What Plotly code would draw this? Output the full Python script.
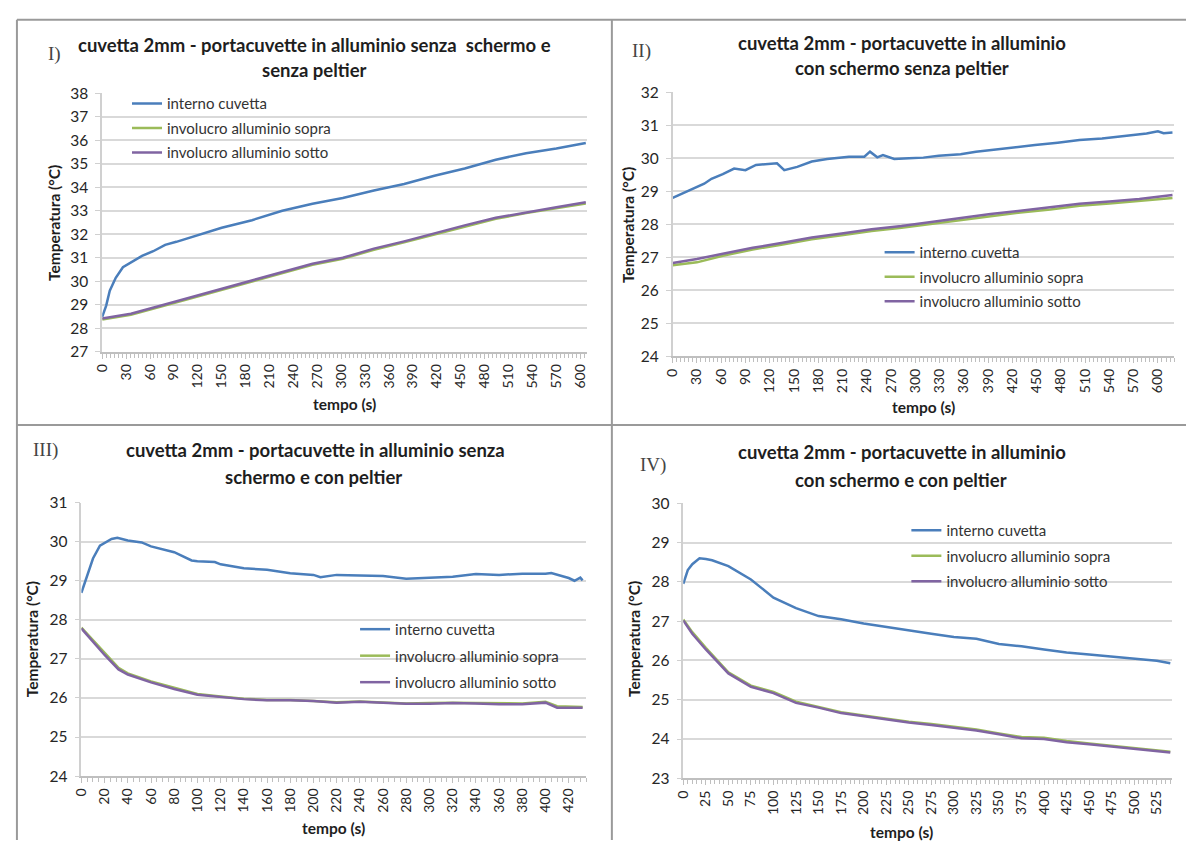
import plotly.graph_objects as go

W, H = 1187, 848

# ---------------- DATA ----------------
# Chart I
t1_int = [0, 5, 9.5, 17, 26, 40, 50, 64, 79, 93, 121, 150, 188, 226, 264, 302, 341, 379, 417, 455, 494, 532, 570, 607]
y1_int = [28.49, 28.97, 29.6, 30.15, 30.6, 30.9, 31.08, 31.28, 31.55, 31.68, 31.97, 32.28, 32.6, 33.0, 33.3, 33.54, 33.86, 34.14, 34.49, 34.8, 35.17, 35.45, 35.65, 35.88]
t1_al = [0, 36, 74, 112, 150, 188, 226, 264, 302, 341, 379, 417, 455, 494, 532, 570, 607]
y1_sopra = [28.38, 28.58, 28.93, 29.28, 29.65, 29.99, 30.36, 30.7, 30.96, 31.34, 31.66, 32.0, 32.33, 32.66, 32.9, 33.1, 33.31]
y1_sotto = [28.42, 28.62, 28.97, 29.32, 29.69, 30.03, 30.4, 30.75, 31.0, 31.39, 31.7, 32.05, 32.38, 32.7, 32.94, 33.15, 33.36]

# Chart II
t2_int = [0, 16, 30, 39, 48, 62, 76, 90, 103, 117, 129, 138, 154, 172, 191, 218, 237, 244, 253, 260, 274, 292, 310, 329, 356, 375, 402, 421, 448, 476, 503, 531, 559, 586, 600, 607, 618]
y2_int = [28.8, 28.98, 29.13, 29.23, 29.38, 29.52, 29.69, 29.64, 29.8, 29.82, 29.85, 29.64, 29.74, 29.9, 29.98, 30.05, 30.05, 30.2, 30.03, 30.1, 29.98, 30.0, 30.02, 30.08, 30.12, 30.2, 30.28, 30.33, 30.4, 30.47, 30.55, 30.6, 30.67, 30.75, 30.82, 30.76, 30.78]
t2_al = [0, 30, 62, 99, 136, 172, 209, 246, 283, 320, 356, 393, 430, 467, 503, 540, 577, 618]
y2_sopra = [26.76, 26.85, 27.05, 27.24, 27.39, 27.55, 27.67, 27.8, 27.9, 28.02, 28.14, 28.26, 28.36, 28.45, 28.56, 28.63, 28.71, 28.8]
y2_sotto = [26.83, 26.95, 27.11, 27.29, 27.44, 27.6, 27.72, 27.85, 27.95, 28.07, 28.2, 28.31, 28.41, 28.51, 28.62, 28.69, 28.77, 28.89]

# Chart III
t3_int = [0, 10, 16, 26, 31, 40, 52, 60, 80, 95, 100, 115, 120, 140, 160, 180, 200, 206, 220, 240, 260, 280, 300, 320, 340, 360, 380, 400, 405, 420, 425, 430, 432]
y3_int = [28.69, 29.57, 29.9, 30.07, 30.1, 30.03, 29.98, 29.88, 29.73, 29.52, 29.5, 29.48, 29.42, 29.32, 29.28, 29.19, 29.15, 29.09, 29.15, 29.13, 29.12, 29.05, 29.07, 29.1, 29.17, 29.15, 29.18, 29.18, 29.2, 29.07, 29.0, 29.08, 29.01]
t3_al = [0, 20, 32, 40, 60, 80, 100, 120, 140, 160, 180, 200, 220, 240, 260, 280, 300, 320, 340, 360, 380, 400, 410, 432]
y3_sopra = [27.8, 27.14, 26.77, 26.63, 26.42, 26.26, 26.1, 26.04, 25.98, 25.95, 25.95, 25.92, 25.89, 25.91, 25.89, 25.86, 25.87, 25.88, 25.87, 25.86, 25.86, 25.9, 25.79, 25.77]
y3_sotto = [27.78, 27.1, 26.73, 26.6, 26.4, 26.23, 26.08, 26.02, 25.97, 25.94, 25.94, 25.92, 25.88, 25.9, 25.88, 25.85, 25.85, 25.87, 25.86, 25.84, 25.84, 25.88, 25.75, 25.75]

# Chart IV
t4_int = [0, 5, 10, 18, 25, 32, 50, 75, 100, 125, 150, 175, 200, 225, 250, 275, 300, 325, 350, 375, 400, 425, 450, 475, 500, 525, 540]
y4_int = [27.95, 28.3, 28.45, 28.6, 28.58, 28.55, 28.4, 28.06, 27.6, 27.33, 27.13, 27.05, 26.94, 26.85, 26.77, 26.68, 26.6, 26.55, 26.42, 26.36, 26.28, 26.2, 26.15, 26.1, 26.05, 25.99, 25.93]
t4_al = [0, 10, 25, 50, 75, 100, 125, 150, 175, 200, 225, 250, 275, 300, 325, 350, 375, 400, 425, 450, 475, 500, 525, 540]
y4_sopra = [27.04, 26.72, 26.32, 25.7, 25.36, 25.2, 24.95, 24.82, 24.68, 24.6, 24.52, 24.44, 24.38, 24.31, 24.24, 24.14, 24.05, 24.03, 23.95, 23.89, 23.83, 23.77, 23.72, 23.68]
y4_sotto = [27.02, 26.68, 26.28, 25.67, 25.33, 25.17, 24.92, 24.8, 24.66, 24.58, 24.5, 24.42, 24.36, 24.29, 24.22, 24.12, 24.02, 24.0, 23.92, 23.87, 23.81, 23.75, 23.7, 23.66]

names = ["interno cuvetta", "involucro alluminio sopra", "involucro alluminio sotto"]
colors = ["#4a7ebb", "#9bbb59", "#8064a2"]

title_lines = [
    ("cuvetta 2mm - portacuvette in alluminio senza  schermo e", "senza peltier"),
    ("cuvetta 2mm - portacuvette in alluminio", "con schermo senza peltier"),
    ("cuvetta 2mm - portacuvette in alluminio senza", "schermo e con peltier"),
    ("cuvetta 2mm - portacuvette in alluminio", "con schermo e con peltier"),
]
labels = ["I)", "II)", "III)", "IV)"]

charts = [
    (t1_int, y1_int, t1_al, y1_sopra, y1_sotto),
    (t2_int, y2_int, t2_al, y2_sopra, y2_sotto),
    (t3_int, y3_int, t3_al, y3_sopra, y3_sotto),
    (t4_int, y4_int, t4_al, y4_sopra, y4_sotto),
]

# ---------------- LAYOUT GEOMETRY (pixels) ----------------
xdom_px = [(94, 582.5), (669.3, 1175), (73, 582), (680, 1173)]
ydom_px = [(85, 349.3), (84, 354), (503.3, 782.7), (504, 785)]
xranges = [[0, 608], [0, 620], [0, 435], [0, 542]]
yranges = [[27, 38], [24, 32], [24, 31], [23, 30]]
xdticks = [30, 30, 20, 25]
title1_pos = [(308, 36), (901, 34), (309, 450), (901, 452)]
title2_pos = [(308, 61), (901, 59), (307, 477), (900, 480)]
label_pos = [(46, 45), (638, 42), (37, 450), (649, 465)]
xtitle_pos = [(338, 403), (922, 406), (327, 836), (900, 840)]
ytitle_pos = [(46, 218), (625, 220), (24, 643), (631, 643)]
legend_pos = [(119, 79), (878, 231), (349, 616), (905, 515)]
legend_gap = [2, 2, 4, 3]

def px(x):
    return x / W

def py(y):
    return 1 - y / H

fig = go.Figure()
FONT = "Lato"

def note(x, y, text, size, family=FONT, color="#1e1e1e", angle=0):
    fig.add_annotation(
        x=px(x), y=py(y), xref="paper", yref="paper", text=text, showarrow=False,
        xanchor="center", yanchor="middle", textangle=angle,
        font=dict(family=family, size=size, color=color),
    )

for i, (ti, yi, ta, ys, yb) in enumerate(charts):
    k = "" if i == 0 else str(i + 1)
    leg = "legend" if i == 0 else f"legend{i+1}"
    series = [(ti, yi), (ta, ys), (ta, yb)]
    for j, (tx, ty) in enumerate(series):
        fig.add_trace(go.Scatter(
            x=tx, y=ty, mode="lines", name=names[j],
            line=dict(color=colors[j], width=2.5),
            xaxis="x" + k, yaxis="y" + k, legend=leg,
            legendgroup=f"g{i}{j}", showlegend=True,
        ))
    xd = xdom_px[i]
    yd = ydom_px[i]
    fig.layout["xaxis" + k] = dict(
        domain=[px(xd[0]), px(xd[1])], range=xranges[i], anchor="y" + k,
        tick0=0, dtick=xdticks[i], tickangle=-90,
        showline=True, linecolor="#bfbfbf", linewidth=1.5,
        ticks="outside", ticklen=5, tickcolor="#bfbfbf",
        minor=dict(dtick=5, ticks="outside", ticklen=4, tickcolor="#bfbfbf"),
        showgrid=False, zeroline=False,
        tickfont=dict(family=FONT, size=14, color="#262626"),
    )
    fig.layout["yaxis" + k] = dict(
        domain=[py(yd[1]), py(yd[0])], range=yranges[i], anchor="x" + k,
        dtick=1, showline=True, linecolor="#d0d0d0", linewidth=1.5,
        ticks="outside", ticklen=5, tickcolor="#d0d0d0", ticklabelstandoff=4,
        showgrid=True, gridcolor="#d9d9d9", gridwidth=2, zeroline=False,
        tickfont=dict(family=FONT, size=15.5, color="#262626"),
    )
    lx, ly = legend_pos[i]
    fig.layout[leg] = dict(
        x=px(lx), y=py(ly), xanchor="left", yanchor="top",
        bgcolor="rgba(0,0,0,0)", borderwidth=0, tracegroupgap=legend_gap[i],
        font=dict(family=FONT, size=15, color="#333"),
    )
    note(*title1_pos[i], f"<b>{title_lines[i][0]}</b>", 18.5)
    note(*title2_pos[i], f"<b>{title_lines[i][1]}</b>", 18.5)
    note(*label_pos[i], labels[i], 19, family="Liberation Serif", color="#444")
    note(*xtitle_pos[i], "<b>tempo (s)</b>", 15.5)
    note(*ytitle_pos[i], "<b>Temperatura (°C)</b>", 15.5, angle=-90)

# panel border lines
border = dict(color="#9a9a9a", width=2)
for x0, y0, x1, y1 in [(8, 10, W, 10), (8, 10, 8, H), (608, 10, 608, H), (8, 424, W, 424)]:
    fig.add_shape(type="line", xref="paper", yref="paper",
                  x0=px(x0), y0=py(y0), x1=px(x1), y1=py(y1), line=border)

fig.update_layout(
    width=W, height=H, margin=dict(l=0, r=0, t=0, b=0),
    paper_bgcolor="white", plot_bgcolor="white",
    font=dict(family=FONT),
)

fig.write_html("out.html")
